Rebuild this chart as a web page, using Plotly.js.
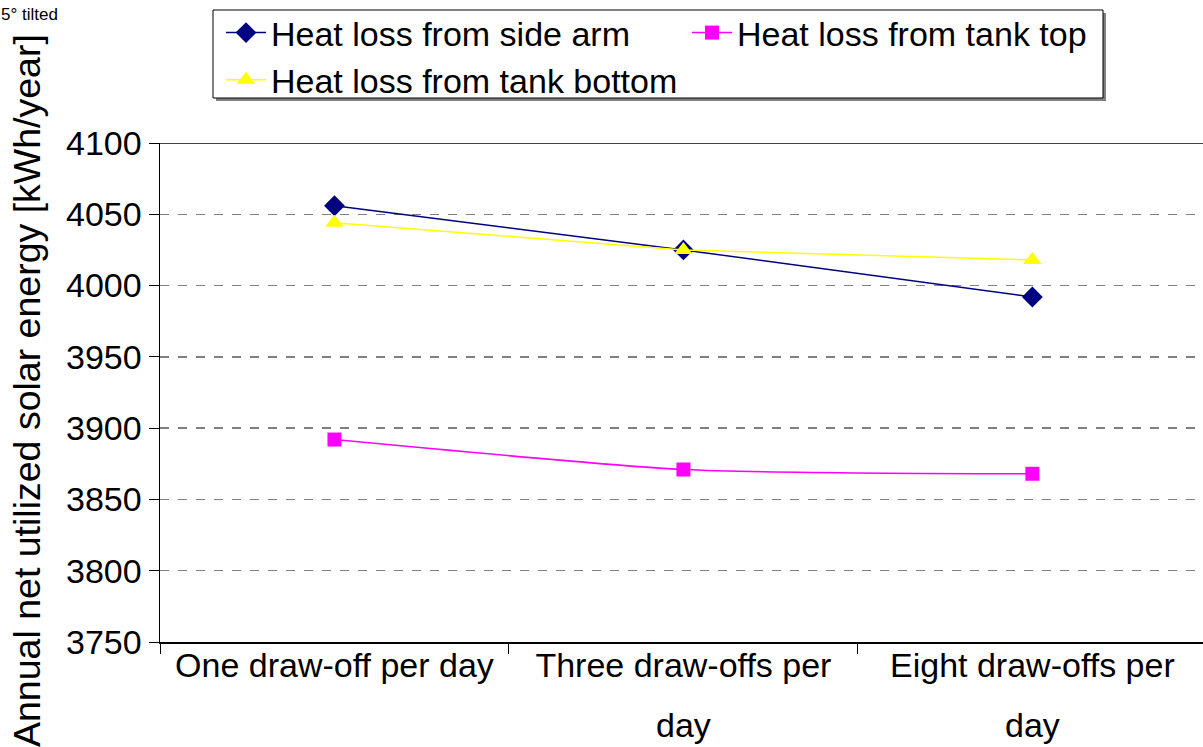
<!DOCTYPE html>
<html>
<head>
<meta charset="utf-8">
<script src="https://cdn.plot.ly/plotly-3.0.1.min.js"></script>
<style>html,body{margin:0;padding:0;overflow:hidden;background:#fff}#chart{width:1203px;height:747px}</style>
</head>
<body>
<div id="chart"></div>
<script>
const categories = ["One draw-off per day", "Three draw-offs per<br>day", "Eight draw-offs per<br>day"];
const sideArm = [4056, 4025, 3992];
const tankTop = [3892, 3871, 3868];
const tankBottom = [4044, 4025, 4018];
const seriesNames = ["Heat loss from side arm", "Heat loss from tank top", "Heat loss from tank bottom"];
const yTicks = [3750, 3800, 3850, 3900, 3950, 4000, 4050, 4100];
const yTitle = "Annual net utilized solar energy [kWh/year]";
const cornerText = "5° tilted";

const FONT = "Arial, 'Liberation Sans', sans-serif";
const FS = 34;

const traces = [
  {x: categories, y: sideArm, name: seriesNames[0], type: "scatter", mode: "lines+markers",
   line: {color: "#000080", width: 1.5}, marker: {symbol: "diamond", size: 16, color: "#000080"}},
  {x: categories, y: tankTop, name: seriesNames[1], type: "scatter", mode: "lines+markers",
   line: {color: "#FF00FF", width: 1.5, shape: "spline", smoothing: 0.6}, marker: {symbol: "square", size: 14, color: "#FF00FF"}},
  {x: categories, y: tankBottom, name: seriesNames[2], type: "scatter", mode: "lines+markers",
   line: {color: "#FFFF00", width: 1.5}, marker: {symbol: "triangle-up", size: 16, color: "#FFFF00"}}
];

// first line of each category label on the axis, second line as annotation below
const firstLines = categories.map(c => c.split("<br>")[0]);
const secondLines = categories.map(c => c.split("<br>")[1] || "");

// pixel -> paper helpers (plot area: x 160..1203, y 143..642)
const px = v => (v - 160) / 1043;
const py = v => (642 - v) / 499;

const annotations = [
  {xref: "paper", yref: "paper", x: px(-1), y: py(14), xanchor: "left", yanchor: "middle",
   text: cornerText, showarrow: false, font: {family: FONT, size: 17, color: "#000"}},
  {xref: "paper", yref: "paper", x: px(27), y: py(391), xanchor: "center", yanchor: "middle",
   textangle: -90, text: yTitle, showarrow: false, font: {family: FONT, size: 37.5, color: "#000"}}
];
secondLines.forEach((t, i) => {
  if (t) annotations.push({xref: "x", yref: "paper", x: categories[i], y: py(725),
    xanchor: "center", yanchor: "middle", text: t, showarrow: false,
    font: {family: FONT, size: FS, color: "#000"}});
});

const layout = {
  width: 1203, height: 747,
  margin: {l: 160, r: 0, t: 143, b: 105},
  paper_bgcolor: "#fff", plot_bgcolor: "#fff",
  font: {family: FONT, size: FS, color: "#000"},
  showlegend: true,
  legend: {
    orientation: "h", xref: "container", yref: "container",
    x: 221/1203, y: 1 - 4/747, xanchor: "left", yanchor: "top",
    borderwidth: 0, bgcolor: "rgba(0,0,0,0)",
    font: {family: FONT, size: FS, color: "#000"},
    entrywidth: 411, entrywidthmode: "pixels", itemwidth: 40,
    traceorder: "normal", tracegroupgap: 0
  },
  xaxis: {
    type: "category", range: [-0.5, 2.489],
    tickvals: categories, ticktext: firstLines,
    showline: true, linecolor: "#000", linewidth: 1.5,
    ticks: "outside", tickson: "boundaries", ticklen: 10, tickcolor: "#000",
    ticklabelstandoff: -7,
    showgrid: false, zeroline: false,
    tickfont: {family: FONT, size: FS, color: "#000"}
  },
  yaxis: {
    range: [3750, 4100], tickvals: yTicks, ticktext: yTicks.map(String),
    showline: true, linecolor: "#000", linewidth: 1.5,
    ticks: "outside", ticklen: 10, tickcolor: "#000",
    showgrid: true, gridcolor: "#808080", griddash: "dash", gridwidth: 1.5,
    zeroline: false,
    tickfont: {family: FONT, size: FS, color: "#000"}
  },
  shapes: [
    {type: "line", xref: "paper", yref: "y", x0: 0, x1: 1, y0: 4100, y1: 4100, line: {color: "#000", width: 1.5}},
    {type: "rect", xref: "paper", yref: "paper", x0: px(216), x1: px(1106), y0: py(13), y1: py(101),
     line: {width: 0}, fillcolor: "#808080", layer: "below"},
    {type: "rect", xref: "paper", yref: "paper", x0: px(213), x1: px(1103), y0: py(10), y1: py(98),
     line: {color: "#000", width: 1}, fillcolor: "#fff", layer: "below"}
  ],
  annotations: annotations
};

Plotly.newPlot("chart", traces, layout, {displayModeBar: false, staticPlot: true});
</script>
</body>
</html>
